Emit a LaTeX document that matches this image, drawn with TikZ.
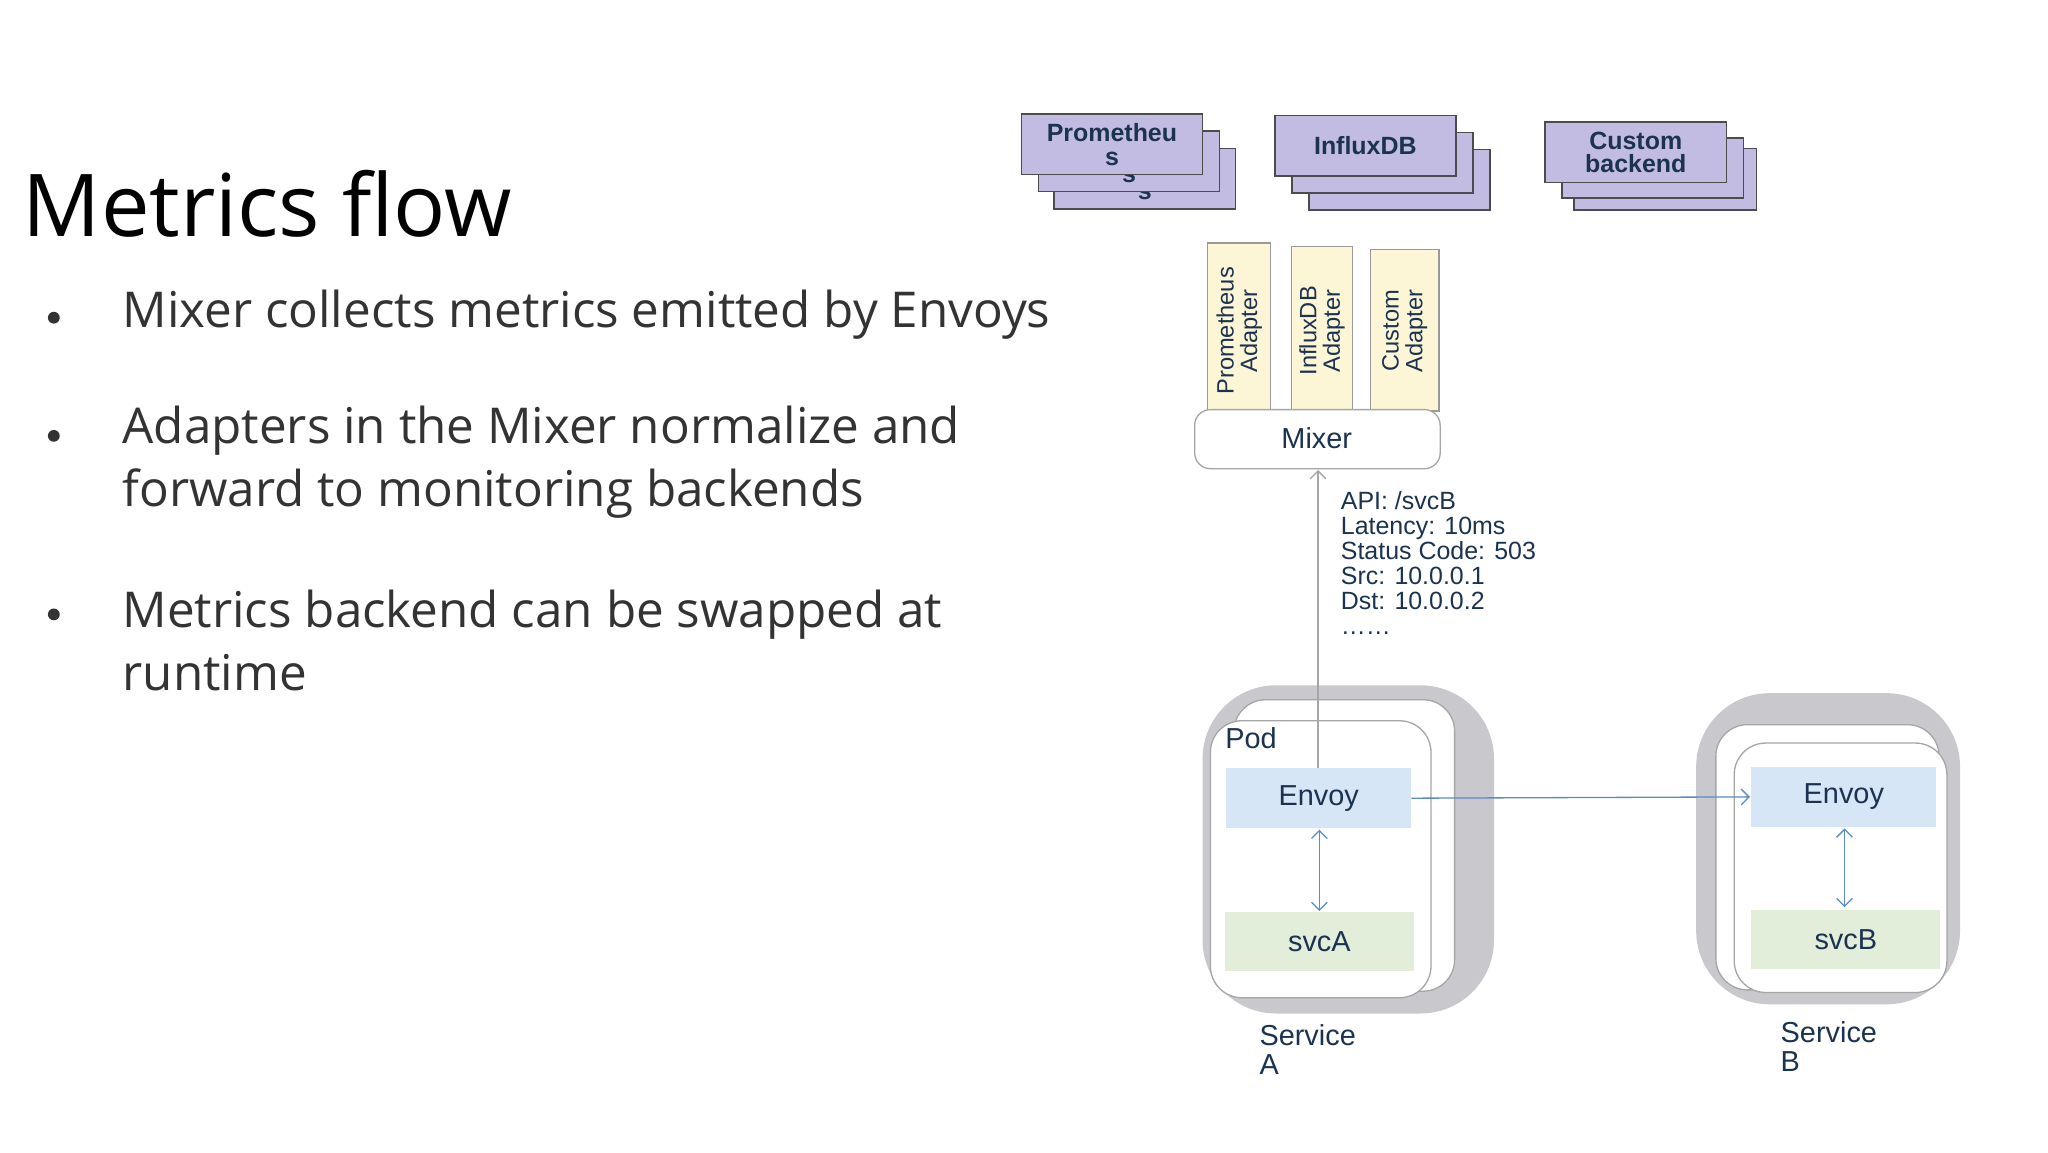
\documentclass[tikz,border=0pt]{standalone}
\usepackage{fontspec}
\usetikzlibrary{arrows.meta}
\setmainfont{Open Sans}
\newfontfamily\dg{Liberation Sans}
\definecolor{navy}{HTML}{1B3350}
\definecolor{lav}{HTML}{C3BCE2}
\definecolor{yel}{HTML}{FCF5D6}
\definecolor{envc}{HTML}{D6E6F6}
\definecolor{svcc}{HTML}{E2EDDA}
\definecolor{svg}{HTML}{C9C8CC}
\definecolor{arr}{HTML}{5B8BC8}
\begin{document}
\begin{tikzpicture}[x=0.5pt,y=-0.5pt,
 be/.style={draw=black!70,fill=lav,line width=0.6pt},
 bt/.style={font=\dg\bfseries\fontsize{9.5}{9}\selectfont,text=navy,align=center},
 ad/.style={draw=black!40,fill=yel,line width=0.5pt},
 adt/.style={font=\dg\fontsize{9}{9}\selectfont,text=navy,rotate=90,align=center},
 pod/.style={draw=black!35,fill=white,rounded corners=12pt,line width=0.5pt},
 lab/.style={font=\dg\fontsize{11}{11}\selectfont,text=navy},
 bl/.style={font=\fontsize{18.8}{24}\selectfont,text=black!80,anchor=west,align=left}]
\useasboundingbox (0,0) rectangle (1560,878);
\fill[white] (0,0) rectangle (1560,878);
% title & bullets
\node[anchor=base west,font=\fontsize{33}{33}\selectfont,inner sep=0] (title) at (17,180) {Metrics flow};
\foreach \y in {240,330,466}{\fill[black!80] (41,\y+2) circle (4.5);}
\node[bl,inner sep=0] (b1) at (93,240) {Mixer collects metrics emitted by Envoys};
\node[bl,inner sep=0] (b2) at (93,352) {Adapters in the Mixer normalize and\\forward to monitoring backends};
\node[bl,inner sep=0] (b3) at (93,488) {Metrics backend can be swapped at\\runtime};
% backends
\foreach \dx/\dy in {25/26,13/13,0/0}{
 \draw[be] (778+\dx,87+\dy) rectangle (916+\dx,133+\dy);
 \node[bt] at (847+\dx,110+\dy) {Prometheu\\s};
}
\node (prom) at (847,110) {};
\foreach \dx/\dy in {26/26,13/13,0/0}{
 \draw[be] (971+\dx,88+\dy) rectangle (1109+\dx,134+\dy);
}
\node[bt] (infl) at (1040,111) {InfluxDB};
\draw[be] (1199,113) rectangle (1338,160);
\draw[be] (1190,105) rectangle (1328,151);
\draw[be] (1177,93) rectangle (1315,139);
\node[bt] (cust) at (1246,116) {Custom\\backend};
% adapters
\draw[ad] (920,185) rectangle (968,313);
\node[adt] (pa) at (944,252) {Prometheus\\Adapter};
\draw[ad] (984,188) rectangle (1030,313);
\node[adt] (ia) at (1007,252) {InfluxDB\\Adapter};
\draw[ad] (1044,190) rectangle (1096,313);
\node[adt] (ca) at (1070,252) {Custom\\Adapter};
\draw[draw=black!35,fill=white,rounded corners=6pt,line width=0.5pt] (910,312) rectangle (1097,357);
\node[lab] (mixer) at (1003,334) {Mixer};
% service A
\fill[svg,rounded corners=28pt] (916,522) rectangle (1138,772);
\draw[pod] (940,533) rectangle (1108,755);
\draw[pod] (922,549) rectangle (1090,760);
\node[lab,anchor=west,inner sep=0] (podl) at (933,562) {Pod};
\fill[envc] (934,585) rectangle (1075,631);
\node[lab] (envA) at (1004.5,608) {Envoy};
\fill[svcc] (933,695) rectangle (1077,740);
\node[lab] (svcA) at (1005,717) {svcA};
\node[lab,align=left,anchor=north west,inner sep=0] (sa) at (959,780) {Service\\A};
% service B
\fill[svg,rounded corners=28pt] (1292,528) rectangle (1493,765);
\draw[pod] (1307,552) rectangle (1477,754);
\draw[pod] (1321,566) rectangle (1483,756);
\fill[envc] (1334,584) rectangle (1475,630);
\node[lab] (envB) at (1404.5,607) {Envoy};
\fill[svcc] (1334,693) rectangle (1478,738);
\node[lab] (svcB) at (1406,716) {svcB};
\node[lab,align=left,anchor=north west,inner sep=0] (sb) at (1356,778) {Service\\B};
% connectors
\coordinate (ma) at (1004,585);
\coordinate (mb) at (1004,358);
\draw[black!35,line width=0.5pt,-{Straight Barb[length=3pt]}] (ma) -- (mb);
\node[font=\dg\fontsize{9.5}{9.5}\selectfont,text=navy,align=left,anchor=north west,inner sep=0] (info) at (1021,374)
 {API: /svcB\\Latency: 10ms\\Status Code: 503\\Src: 10.0.0.1\\Dst: 10.0.0.2\\……};
\coordinate (ea) at (1075,608);
\coordinate (eb) at (1333,607);
\draw[arr,line width=0.5pt,-{Straight Barb[length=3pt]}] (ea) -- (eb);
\coordinate (a1) at (1005,632); \coordinate (a2) at (1005,694);
\draw[arr,line width=0.5pt,{Straight Barb[length=3pt]}-{Straight Barb[length=3pt]}] (a1) -- (a2);
\coordinate (b1a) at (1405,631); \coordinate (b2a) at (1405,691);
\draw[arr,line width=0.5pt,{Straight Barb[length=3pt]}-{Straight Barb[length=3pt]}] (b1a) -- (b2a);
\end{tikzpicture}
\end{document}
